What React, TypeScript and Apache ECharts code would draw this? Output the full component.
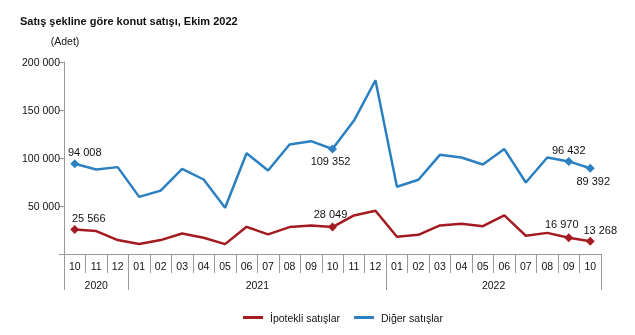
import React, { useEffect, useRef } from "react";
import * as echarts from "echarts";

const months = ["10","11","12","01","02","03","04","05","06","07","08","09","10","11","12","01","02","03","04","05","06","07","08","09","10"];
const years = ["2020", "2021", "2022"];
const monthsPerYear = [3, 12, 10];
const ipotekli = [25566, 23900, 14500, 10400, 14500, 21400, 16900, 10300, 28300, 20400, 28000, 29800, 28049, 40200, 45000, 18000, 20000, 29800, 31500, 29000, 40200, 19000, 22000, 16970, 13268];
const diger = [94008, 88000, 90500, 59500, 66000, 88700, 77600, 48200, 105000, 87000, 114000, 117500, 109352, 139000, 181000, 70000, 77300, 103300, 100500, 93200, 109300, 74500, 100500, 96432, 89392];
const markedIdx = [0, 12, 23, 24];
const yTicks = [0, 50000, 100000, 150000, 200000];

const fmt = (n: number) => String(n).replace(/\B(?=(\d{3})+(?!\d))/g, " ");

const labelPos: Record<string, Record<number, { position: string; offset: number[] }>> = {
  red: {
    0: { position: "top", offset: [14, 4] },
    12: { position: "top", offset: [-2, 2] },
    23: { position: "top", offset: [-7, 1] },
    24: { position: "top", offset: [10, 4] },
  },
  blue: {
    0: { position: "top", offset: [10, 3] },
    12: { position: "bottom", offset: [-2, -3] },
    23: { position: "top", offset: [0, 4] },
    24: { position: "bottom", offset: [3, -2] },
  },
};

function buildData(values: number[], key: string) {
  return values.map((v, i) => {
    const marked = markedIdx.includes(i);
    if (!marked) return { value: v, symbol: "none" };
    const lp = labelPos[key][i];
    return {
      value: v,
      symbol: "diamond",
      symbolSize: 9,
      label: {
        show: true,
        position: lp.position,
        offset: lp.offset,
        formatter: () => fmt(v),
        fontSize: 11,
        color: "#111",
        fontFamily: "Liberation Sans, Arial, sans-serif",
      },
    };
  });
}

export default function App() {
  const ref = useRef<HTMLDivElement>(null);
  useEffect(() => {
    if (!ref.current) return;
    const chart = echarts.init(ref.current, null, { renderer: "svg" });
    const font = "Liberation Sans, Arial, sans-serif";
    const bounds: number[] = [0];
    monthsPerYear.forEach((m) => bounds.push(bounds[bounds.length - 1] + m));
    const yearCenters = monthsPerYear.map((m, i) => bounds[i] + m / 2);
    const gray = "#9a9a9a";
    chart.setOption({
      animation: false,
      textStyle: { fontFamily: font },
      title: {
        text: "Satış şekline göre konut satışı, Ekim 2022",
        left: 20,
        top: 15,
        padding: 0,
        textStyle: { fontSize: 11, fontWeight: "bold", color: "#111", fontFamily: font },
      },
      grid: { left: 64, right: 34, top: 62, bottom: 81, containLabel: false, outerBoundsMode: "none" },
      legend: {
        left: 243,
        top: 312,
        padding: 0,
        icon: "rect",
        itemWidth: 20,
        itemHeight: 3,
        itemGap: 14,
        textStyle: { fontSize: 10.5, color: "#111", fontFamily: font, padding: [0, 0, 0, 2] },
        data: ["İpotekli satışlar", "Diğer satışlar"],
      },
      xAxis: [
        {
          type: "category",
          data: months,
          boundaryGap: true,
          axisLine: { show: true, lineStyle: { color: gray, width: 1 } },
          axisTick: { show: true, interval: 0, length: 19, lineStyle: { color: gray } },
          axisLabel: { interval: 0, margin: 6, fontSize: 10.5, color: "#111", fontFamily: font },
          splitLine: { show: false },
        },
        {
          type: "value",
          min: 0,
          max: bounds[bounds.length - 1],
          position: "bottom",
          axisLine: { show: false },
          axisTick: { show: true, customValues: bounds, length: 36, lineStyle: { color: gray } },
          axisLabel: {
            customValues: yearCenters,
            margin: 25,
            fontSize: 10.5,
            color: "#111",
            fontFamily: font,
            formatter: (v: number) => {
              const idx = yearCenters.findIndex((c) => Math.abs(c - v) < 0.01);
              return idx >= 0 ? years[idx] : "";
            },
          },
          splitLine: { show: false },
        },
      ],
      yAxis: {
        type: "value",
        min: 0,
        max: 200000,
        interval: 50000,
        name: "(Adet)",
        nameLocation: "end",
        nameGap: 16,
        nameTextStyle: { fontSize: 10.5, color: "#111", fontFamily: font, align: "center", padding: [0, 0, 0, 2] },
        axisLine: { show: true, lineStyle: { color: gray } },
        axisTick: { show: true, length: 5, lineStyle: { color: gray } },
        axisLabel: {
          margin: 4,
          fontSize: 10.5,
          color: "#111",
          fontFamily: font,
          formatter: (v: number) => (v === 0 || !yTicks.includes(v) ? "" : fmt(v)),
        },
        splitLine: { show: false },
      },
      series: [
        {
          name: "İpotekli satışlar",
          type: "line",
          data: buildData(ipotekli, "red"),
          color: "#a31a20",
          lineStyle: { width: 2.5, color: "#a31a20" },
          itemStyle: { color: "#a31a20" },
          showSymbol: true,
          z: 3,
        },
        {
          name: "Diğer satışlar",
          type: "line",
          data: buildData(diger, "blue"),
          color: "#2b80c2",
          lineStyle: { width: 2.5, color: "#2b80c2" },
          itemStyle: { color: "#2b80c2" },
          showSymbol: true,
          z: 2,
        },
      ],
    });
    return () => chart.dispose();
  }, []);
  return <div ref={ref} style={{ position: "fixed", left: 0, top: 0, width: 635, height: 335 }} />;
}
